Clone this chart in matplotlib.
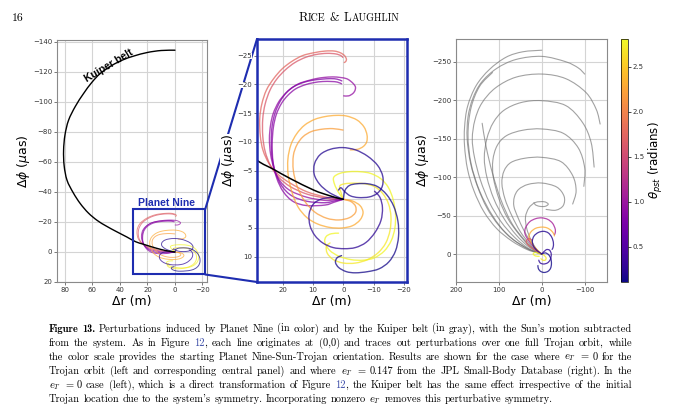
import numpy as np
import matplotlib
matplotlib.use("Agg")
import matplotlib.pyplot as plt
from matplotlib.patches import Rectangle, ConnectionPatch, PathPatch
from matplotlib.path import Path
from matplotlib.colors import Normalize
from matplotlib.cm import ScalarMappable

# ---------------- data ----------------
# Kuiper belt perturbation for e_T = 0 (black): (dr [m], dphi [uas])
kuiper_x = [0, 1.5, 5, 9.8, 17.5, 23, 28.5, 35, 43, 50, 56.5, 63, 68.9, 74, 78.5, 80.6, 81, 80,
            77.4, 72.5, 66.5, 60.5, 54.3, 46, 38, 30, 20, 10, 0]
kuiper_y = [0, -0.16, -0.7, -1.6, -3.6, -5.2, -6.8, -10, -13.8, -17.3, -21, -26, -32.3, -39.5,
            -47.8, -57.5, -67.8, -78, -87.8, -97, -105.6, -113, -119, -124.3, -128, -130.6, -133,
            -134.3, -134.5]

# Planet Nine perturbations for e_T = 0 (coloured by theta_pst)
pink_a_theta = 1.75
pink_a = [(0, 0), (3, -0.2), (6, -0.4), (12, -1.3), (17.5, -2.8), (21.5, -4.3), (24.5, -6.2),
          (26.5, -8.5), (27.4, -11), (27.6, -14), (26.9, -16.6), (25.4, -19), (23, -21),
          (20.2, -22.7), (17, -24), (13.5, -25), (9.8, -25.5), (6, -25.8), (3, -25.8),
          (1, -25.5), (-0.4, -25), (-1, -24.4), (-0.8, -24), (-0.3, -23.8)]
pink_b_theta = 1.62
pink_b = [(0, 0), (3, 0), (6, -0.2), (12, -0.9), (17.5, -2.2), (21.3, -3.8), (24, -5.8),
          (25.8, -8.3), (26.6, -11), (26.6, -14), (25.8, -16.6), (24.2, -19), (22, -20.9),
          (19.2, -22.5), (16, -23.8), (12.5, -24.7), (9, -25.2), (5.5, -25.4), (2.5, -25.3),
          (0.8, -25), (0.2, -24.7)]
purple_a_theta = 0.95
purple_a = [(0, 0), (3, 0.1), (6, 0.2), (12, -0.35), (17.5, -1.5), (20.8, -3.1), (22.8, -5.2),
            (24, -7.8), (24.4, -10.5), (24, -13), (23.1, -15), (21.4, -16.9), (19.5, -18.2),
            (17.5, -19.2), (14.8, -20.1), (12, -20.6), (9, -21), (6.5, -21.2), (3.5, -21.3),
            (1, -21.2), (-1, -21), (-2.3, -20.6), (-3.5, -20), (-4, -19.5), (-3.8, -18.9),
            (-3.1, -18.4), (-1.75, -18.0), (-0.1, -18.0)]
purple_b_theta = 0.82
purple_b = [(0, 0), (3, 0.3), (6, 0.6), (12, 0.35), (17, -0.6), (20.3, -2.3), (22.4, -4.6),
            (23.5, -7.2), (23.8, -10), (23.5, -12.8), (22.5, -15.1), (20.9, -17), (18.9, -18.5),
            (16.4, -19.6), (13.4, -20.3), (10.3, -20.7), (7.3, -20.9), (4.2, -21), (2, -20.9),
            (0.5, -20.6)]
purple_c_theta = 0.88
purple_c = [(0, 0), (3, 0.5), (6, 1.0), (12, 1.1), (16.5, 0.4), (19.8, -1.3), (22, -3.7),
            (23.2, -6.5), (23.5, -9.5), (23.1, -12.5), (22.1, -14.8), (20.4, -16.7),
            (18.3, -18.1), (15.8, -19.2), (12.8, -19.9), (9.8, -20.3), (6.8, -20.5), (4, -20.5),
            (2, -20.4), (0.6, -20.1)]
orange_a_theta = 2.3
orange_a = [(0, 0), (-3, 0.3), (-5.5, 1.1), (-6.5, 2.3), (-5.5, 3.6), (-3, 4.6), (0.5, 5),
            (4.5, 4.9), (8.5, 4.3), (12, 3.2), (15, 1.3), (17, -1.3), (18.2, -4.2), (18.3, -7),
            (17.3, -9.5), (15.4, -11.4), (12.8, -12.9), (9.5, -13.9), (6, -14.4), (2.5, -14.6),
            (-1, -14.5), (-4.5, -13.8), (-6.8, -12.6), (-7.8, -11.2), (-7.7, -10), (-6.6, -9.2),
            (-4.7, -8.7), (-2.3, -8.6)]
orange_b_theta = 2.2
orange_b = [(0, 0), (-2.5, 0.4), (-4, 1.2), (-4, 2.3), (-2, 3.2), (1.5, 3.6), (5.5, 3.3),
            (9.5, 2.2), (12.8, 0.3), (15.2, -2.2), (16.5, -5), (16.5, -7.6), (15.3, -9.5),
            (13.3, -10.9), (10.5, -11.8), (7, -12.2), (3.5, -12.3), (0.1, -12.05)]
blue_a_theta = 0.2
blue_a = [(0, 0), (2.2, -0.5), (5, -1.3), (7.8, -2.6), (9.6, -4.3), (9.5, -6.2), (7.6, -7.8),
          (4.3, -8.7), (0.3, -9.0), (-4, -8.6), (-8, -7.5), (-11.3, -5.9), (-13, -4),
          (-12.8, -2.2), (-11.1, -1.0), (-8.5, -0.4), (-5, -0.3), (-2.3, -0.6), (-0.5, -1.3),
          (0.8, -2.0), (1.6, -1.6)]
blue_b_theta = 0.14
blue_b = [(0, 0), (-0.5, -1.5), (-2, -2.4), (-4.5, -2.7), (-8, -2.7), (-11.3, -2.2),
          (-14.3, -0.8), (-16.6, 1.2), (-18, 3.8), (-18.2, 6.5), (-17.2, 9), (-15, 10.9),
          (-11.8, 12.1), (-8, 12.6), (-4, 12.8), (-1, 12.6), (1.5, 11.9), (2.6, 11),
          (2.1, 10.2), (0.6, 9.8)]
blue_c_theta = 0.25
blue_c = [(0, 0), (2, -0.2), (4.5, -0.3), (7.5, 0), (10, 0.9), (11.3, 2.6), (11, 4.6),
          (9.4, 6.3), (6.8, 7.6), (3.4, 8.4), (-0.3, 8.6), (-4, 8.4), (-7.5, 7.5),
          (-10.4, 5.8), (-12.4, 3.7), (-12.9, 1.5), (-12.1, -0.3), (-10.3, -1.4)]
yellow_a_theta = 2.78
yellow_a = [(0, 0), (1.6, -1.2), (2.9, -2.6), (3.2, -3.8), (1.2, -4.5), (-2, -4.8), (-5.5, -4.8),
            (-9, -4.5), (-12.3, -3.6), (-14.8, -2.1), (-16.4, 0), (-17.2, 2.5), (-17, 5),
            (-15.8, 7.2), (-13.5, 9), (-10.2, 10.2), (-6.5, 10.6), (-2.5, 10.5), (1.5, 9.9),
            (4.5, 8.9), (6.1, 7.5), (5.7, 6.5), (4, 6), (1.6, 5.9)]
yellow_b_theta = 2.7
yellow_b = [(0, 0), (0.8, -1.2), (1.2, -2.3), (-0.5, -2.7), (-3.5, -2.8), (-7, -2.7),
            (-10.3, -2.2), (-13, -1), (-14.9, 0.8), (-15.7, 3), (-15.4, 5.4), (-14, 7.6),
            (-11.5, 9.3), (-8, 10.5), (-4, 11.1), (0, 11.1), (3.3, 10.5), (5.3, 9.4),
            (5.6, 8.2), (4.4, 7.6)]

# Kuiper belt perturbations for e_T = 0.147 (grey)
gray_1 = [(0, 0), (10, -1.5), (35, -6), (70, -17), (105, -33), (135, -55), (158, -82), (173, -110),
          (180, -140), (180, -165), (173, -192), (153, -219), (122, -240), (83, -256), (44, -263),
          (0, -265)]
gray_2 = [(0, 0), (10, -1.8), (34, -7), (67, -19), (100, -37), (128, -60), (150, -88), (166, -118),
          (174, -150), (172, -178), (161, -202), (141, -223), (106, -241), (60, -253), (0, -257),
          (-56, -250), (-85, -242), (-100, -234)]
gray_3 = [(0, 0), (10, -2), (33, -8), (64, -22), (95, -42), (122, -67), (143, -96), (157, -126),
          (162, -150), (156, -174), (140, -196), (108, -216), (60, -230), (0, -234), (-56, -228),
          (-103, -210), (-127, -188), (-136, -169)]
gray_4 = [(0, 0), (10, -2.5), (32, -10), (60, -25), (88, -46), (112, -72), (128, -100),
          (134, -125), (128, -150), (113, -171), (88, -187), (48, -197), (0, -199.4), (-56, -193),
          (-95, -171), (-115, -145), (-122, -113)]
gray_5 = [(0, 0), (10, -3), (30, -11), (55, -27), (80, -47), (100, -72), (113, -100), (114, -122),
          (104, -141), (82, -154), (44, -161), (0, -162.6), (-50, -157), (-85, -138),
          (-100, -112), (-98, -88)]
gray_6 = [(0, 0), (10, -3.5), (28, -13), (50, -29), (70, -50), (86, -72), (93, -92), (88, -108),
          (72, -119), (40, -124.5), (0, -125.7), (-45, -120), (-72, -102), (-80, -82), (-72, -65)]
gray_7 = [(0, 0), (10, -4), (25, -15), (42, -31), (56, -48), (65, -62), (64, -74), (54, -84),
          (32, -90.5), (0, -92.3), (-35, -87), (-52, -75), (-50, -63), (-33, -57), (-10, -58)]
gray_8 = [(0, 0), (12, -6), (25, -18), (35, -33), (38, -48), (30, -60), (15, -67), (-5, -68),
          (-15, -65), (-8, -62), (5, -62), (15, -64), (18, -67)]
gray_9 = [(0, 0), (15, -5), (40, -18), (70, -40), (95, -70), (115, -105), (130, -140), (139, -170)]
gray_10 = [(0, 0), (12, -2), (40, -9), (80, -25), (115, -50), (145, -82), (165, -118), (172, -155),
           (165, -190), (145, -218), (115, -236)]

# Planet Nine perturbations for e_T = 0.147 (coloured)
r_purple_theta = 1.1
r_purple = [(0, 0), (8, -3), (18, -9), (30, -17), (39, -26), (38, -34), (28, -42), (14, -46),
            (0, -47), (-14, -45), (-25, -40), (-31, -33), (-31.5, -28), (-29.4, -25)]
r_orange_theta = 2.3
r_orange = [(0, 0), (8, -4), (18, -10), (27, -17), (30, -23), (25, -29), (14, -33.5), (0, -35),
            (-12, -34), (-22, -30.5), (-28, -26), (-29.4, -23.5)]
r_pink_theta = 1.7
r_pink = [(0, 0), (10, -3), (22, -7.5), (33, -12.5), (36, -17), (30, -20), (22, -18)]
r_blue_a_theta = 0.2
r_blue_a = [(0, 0), (10, -4), (19, -10), (22, -17), (18, -23.5), (8, -28), (-4, -29.5),
            (-15, -27.5), (-23, -22), (-27, -15), (-26.5, -9), (-24, -6)]
r_blue_b_theta = 0.13
r_blue_b = [(0, 0), (-8, -1.5), (-16, 1), (-21, 6), (-22.5, 12.5), (-20.5, 18.5), (-14.5, 22.5),
            (-5.5, 24), (3, 22.5), (8, 19), (9, 15)]
r_blue_c_theta = 0.25
r_blue_c = [(0, 0), (-10, -5.5), (-18, -5), (-22, 0), (-20, 7), (-13.5, 11.5), (-4, 13),
            (4, 11.5), (7, 8)]
r_yellow_a_theta = 2.78
r_yellow_a = [(0, 0), (8, -1), (16, -2), (20, 0), (15, 2.5), (6, 3)]
r_yellow_b_theta = 2.7
r_yellow_b = [(0, 0), (-5, 1.5), (-10, 5), (-8, 8), (-2, 8), (2, 6)]

theta_min, theta_max = 0.11, 2.81
cbar_ticks = [0.5, 1.0, 1.5, 2.0, 2.5]
left_xticks = [80, 60, 40, 20, 0, -20]
left_yticks = [-140, -120, -100, -80, -60, -40, -20, 0, 20]
mid_xticks = [20, 10, 0, -10, -20]
mid_yticks = [-25, -20, -15, -10, -5, 0, 5, 10]
right_xticks = [200, 100, 0, -100]
right_yticks = [-250, -200, -150, -100, -50, 0]

colored_e0 = [(pink_a_theta, pink_a), (pink_b_theta, pink_b), (purple_a_theta, purple_a),
              (purple_b_theta, purple_b), (purple_c_theta, purple_c),
              (orange_a_theta, orange_a), (orange_b_theta, orange_b),
              (yellow_a_theta, yellow_a), (yellow_b_theta, yellow_b),
              (blue_a_theta, blue_a), (blue_b_theta, blue_b), (blue_c_theta, blue_c)]
gray_ecc = [gray_1, gray_2, gray_3, gray_4, gray_5, gray_6, gray_7, gray_8, gray_9, gray_10]
colored_ecc = [(r_purple_theta, r_purple), (r_orange_theta, r_orange), (r_pink_theta, r_pink),
               (r_yellow_a_theta, r_yellow_a), (r_yellow_b_theta, r_yellow_b),
               (r_blue_a_theta, r_blue_a), (r_blue_b_theta, r_blue_b), (r_blue_c_theta, r_blue_c)]

# ---------------- figure ----------------
W, H = 680, 416
fig = plt.figure(figsize=(W / 100, H / 100), dpi=100)
fig.patch.set_facecolor("white")


def ax_at(l, t, r, b):
    return fig.add_axes([l / W, 1 - b / H, (r - l) / W, (b - t) / H])


def smooth_path(pts):
    """Smooth (Catmull-Rom style) cubic path through the read points, drawn by matplotlib."""
    p = np.asarray(pts, float)
    ext = np.vstack([p[0], p, p[-1]])
    verts = [p[0]]
    codes = [Path.MOVETO]
    for i in range(len(p) - 1):
        p0, p1, p2, p3 = ext[i], ext[i + 1], ext[i + 2], ext[i + 3]
        verts += [p1 + (p2 - p0) / 6, p2 - (p3 - p1) / 6, p2]
        codes += [Path.CURVE4] * 3
    return Path(verts, codes)


def draw_curve(ax, pts, **kw):
    ax.add_patch(PathPatch(smooth_path(pts), fill=False, capstyle="round", **kw))


ax1 = ax_at(57, 40, 207, 282)
ax2 = ax_at(257, 39, 407, 282)
ax3 = ax_at(456, 39, 607, 282)
cax = ax_at(621, 39, 628, 282)

cmap = plt.get_cmap("plasma")
norm = Normalize(theta_min, theta_max)
BLUE = "#1e2db0"

for ax in (ax1, ax2, ax3):
    ax.grid(True, color="#d4d4d4", lw=0.8)
    ax.set_axisbelow(True)
    ax.tick_params(labelsize=5, length=2, width=0.5, colors="#444444", labelcolor="#333333",
                   pad=1.5)
    ax.set_xlabel("Δr (m)", fontsize=9, labelpad=1.5)
    ax.set_ylabel(r"$\Delta\phi$ ($\mu$as)", fontsize=9, labelpad=0.5)

for ax in (ax1, ax3):
    for s in ax.spines.values():
        s.set_color("#8a8a8a")
        s.set_linewidth(0.8)
for s in ax2.spines.values():
    s.set_color(BLUE)
    s.set_linewidth(1.8)

kuiper_pts = list(zip(kuiper_x, kuiper_y))

# left panel
for th, pts in colored_e0:
    draw_curve(ax1, pts, edgecolor=cmap(norm(th)), lw=0.7, alpha=0.7)
draw_curve(ax1, kuiper_pts, edgecolor="black", lw=1.0)
ax1.add_patch(Rectangle((-22, -28.5), 52.5, 43.5, fill=False, edgecolor=BLUE, lw=1.5, zorder=5))
ax1.text(6.3, -32.7, "Planet Nine", color=BLUE, fontsize=7.5, fontweight="bold",
         family="Liberation Sans", ha="center", va="center")
ax1.text(48.3, -124.5, "Kuiper belt", color="black", fontsize=7.5, fontweight="bold",
         family="Liberation Sans", ha="center", va="center", rotation=31)
ax1.set_xlim(85.8, -23.3)
ax1.set_ylim(20, -141.3)
ax1.set_xticks(left_xticks)
ax1.set_yticks(left_yticks)

# middle panel
for th, pts in colored_e0:
    draw_curve(ax2, pts, edgecolor=cmap(norm(th)), lw=1.0, alpha=0.75)
draw_curve(ax2, kuiper_pts, edgecolor="black", lw=1.1)
ax2.set_xlim(28.5, -21)
ax2.set_ylim(14.4, -27.9)
ax2.set_xticks(mid_xticks)
ax2.set_yticks(mid_yticks)
for lab in ax2.get_yticklabels():
    lab.set_bbox(dict(facecolor="white", edgecolor="none", pad=0))
ax2.yaxis.label.set_bbox(dict(facecolor="white", edgecolor="none", pad=0))

# right panel
for pts in gray_ecc:
    draw_curve(ax3, pts, edgecolor="#707070", lw=0.8, alpha=0.65)
for th, pts in colored_ecc:
    draw_curve(ax3, pts, edgecolor=cmap(norm(th)), lw=0.9, alpha=0.8)
ax3.set_xlim(200, -152)
ax3.set_ylim(36.4, -279.6)
ax3.set_xticks(right_xticks)
ax3.set_yticks(right_yticks)

# colorbar
sm = ScalarMappable(norm=norm, cmap=cmap)
cb = fig.colorbar(sm, cax=cax)
cb.set_ticks(cbar_ticks)
cb.ax.tick_params(labelsize=5, length=2, width=0.5, pad=1.5, labelcolor="#333333")
cb.outline.set_linewidth(0.5)
cb.set_label(r"$\theta_{pst}$ (radians)", fontsize=8.5, labelpad=2)

# zoom connector lines (drawn underneath the central panel's labels)
for ya, yb in ((-28.5, 1), (15, 0)):
    con = ConnectionPatch(xyA=(-22, ya), coordsA=ax1.transData, xyB=(0, yb),
                          coordsB=ax2.transAxes, color=BLUE, lw=1.5, zorder=-1)
    fig.add_artist(con)
ax1.set_zorder(-2)

# ---------------- header and caption ----------------
fig.canvas.draw()
rend = fig.canvas.get_renderer()
CAP_SIZE = 7.5


def make_text(s, style, size):
    kw = dict(fontsize=size, va="baseline", ha="left", family="cmr10")
    if style == "b":
        kw["family"] = "cmb10"
    if style == "link":
        kw["color"] = "#3d4ea8"
    if style == "m":
        kw["math_fontfamily"] = "cm"
    return fig.text(0, 0, s, **kw)


def width_of(t):
    return t.get_window_extent(rend).width


def place_line(segments, x0, x1, y, justify=True, size=CAP_SIZE):
    words = [[]]
    for text, style in segments:
        pieces = text.split(" ")
        for k, piece in enumerate(pieces):
            if k > 0:
                words.append([])
            if piece:
                words[-1].append((piece, style))
    words = [w for w in words if w]
    objs = []
    total = 0
    for w in words:
        parts = []
        ww = 0
        for piece, style in w:
            t = make_text(piece, style, size)
            pw = width_of(t)
            parts.append((t, pw))
            ww += pw
        objs.append((parts, ww))
        total += ww
    space = 0.333 * size * 100 / 72
    if justify and len(objs) > 1:
        gap = (x1 - x0 - total) / (len(objs) - 1)
    else:
        gap = space
    x = x0
    for parts, ww in objs:
        xx = x
        for t, pw in parts:
            t.set_position((xx / W, 1 - y / H))
            xx += pw
        x += ww + gap


caption = [
    [("Figure 13.", "b"), (" Perturbations induced by Planet Nine (in color) and by the Kuiper belt "
                           "(in gray), with the Sun's motion subtracted", "r")],
    [("from the system. As in Figure ", "r"), ("12", "link"),
     (", each line originates at (0,0) and traces out perturbations over one full Trojan orbit, "
      "while", "r")],
    [("the color scale provides the starting Planet Nine-Sun-Trojan orientation. Results are "
      "shown for the case where ", "r"), ("$e_T$", "m"), (" = 0 for the", "r")],
    [("Trojan orbit (left and corresponding central panel) and where ", "r"), ("$e_T$", "m"),
     (" = 0.147 from the JPL Small-Body Database (right). In the", "r")],
    [("$e_T$", "m"), (" = 0 case (left), which is a direct transformation of Figure ", "r"),
     ("12", "link"), (", the Kuiper belt has the same effect irrespective of the initial", "r")],
    [("Trojan location due to the system's symmetry. Incorporating nonzero ", "r"),
     ("$e_T$", "m"), (" removes this perturbative symmetry.", "r")],
]
for i, segs in enumerate(caption):
    place_line(segs, 49, 632, 331.5 + 14.1 * i, justify=(i < len(caption) - 1))

# header: page number and small-caps running head
t16 = make_text("16", "r", 8.5)
t16.set_position((12 / W, 1 - 21 / H))
head = [("R", 9), ("ICE", 7.2), (" & ", 9), ("L", 9), ("AUGHLIN", 7.2)]
objs = []
tot = 0
sp_w = 0.333 * 9 * 100 / 72
for s, sz in head:
    t = make_text(s.strip(), "r", sz)
    w = width_of(t)
    spaced = s.startswith(" ")
    if spaced:
        w += 2 * sp_w
    objs.append((t, w, spaced))
    tot += w
x = 349 - tot / 2
for t, w, sp in objs:
    t.set_position(((x + (sp_w if sp else 0)) / W, 1 - 21 / H))
    x += w

fig.savefig("out.png", dpi=100)
